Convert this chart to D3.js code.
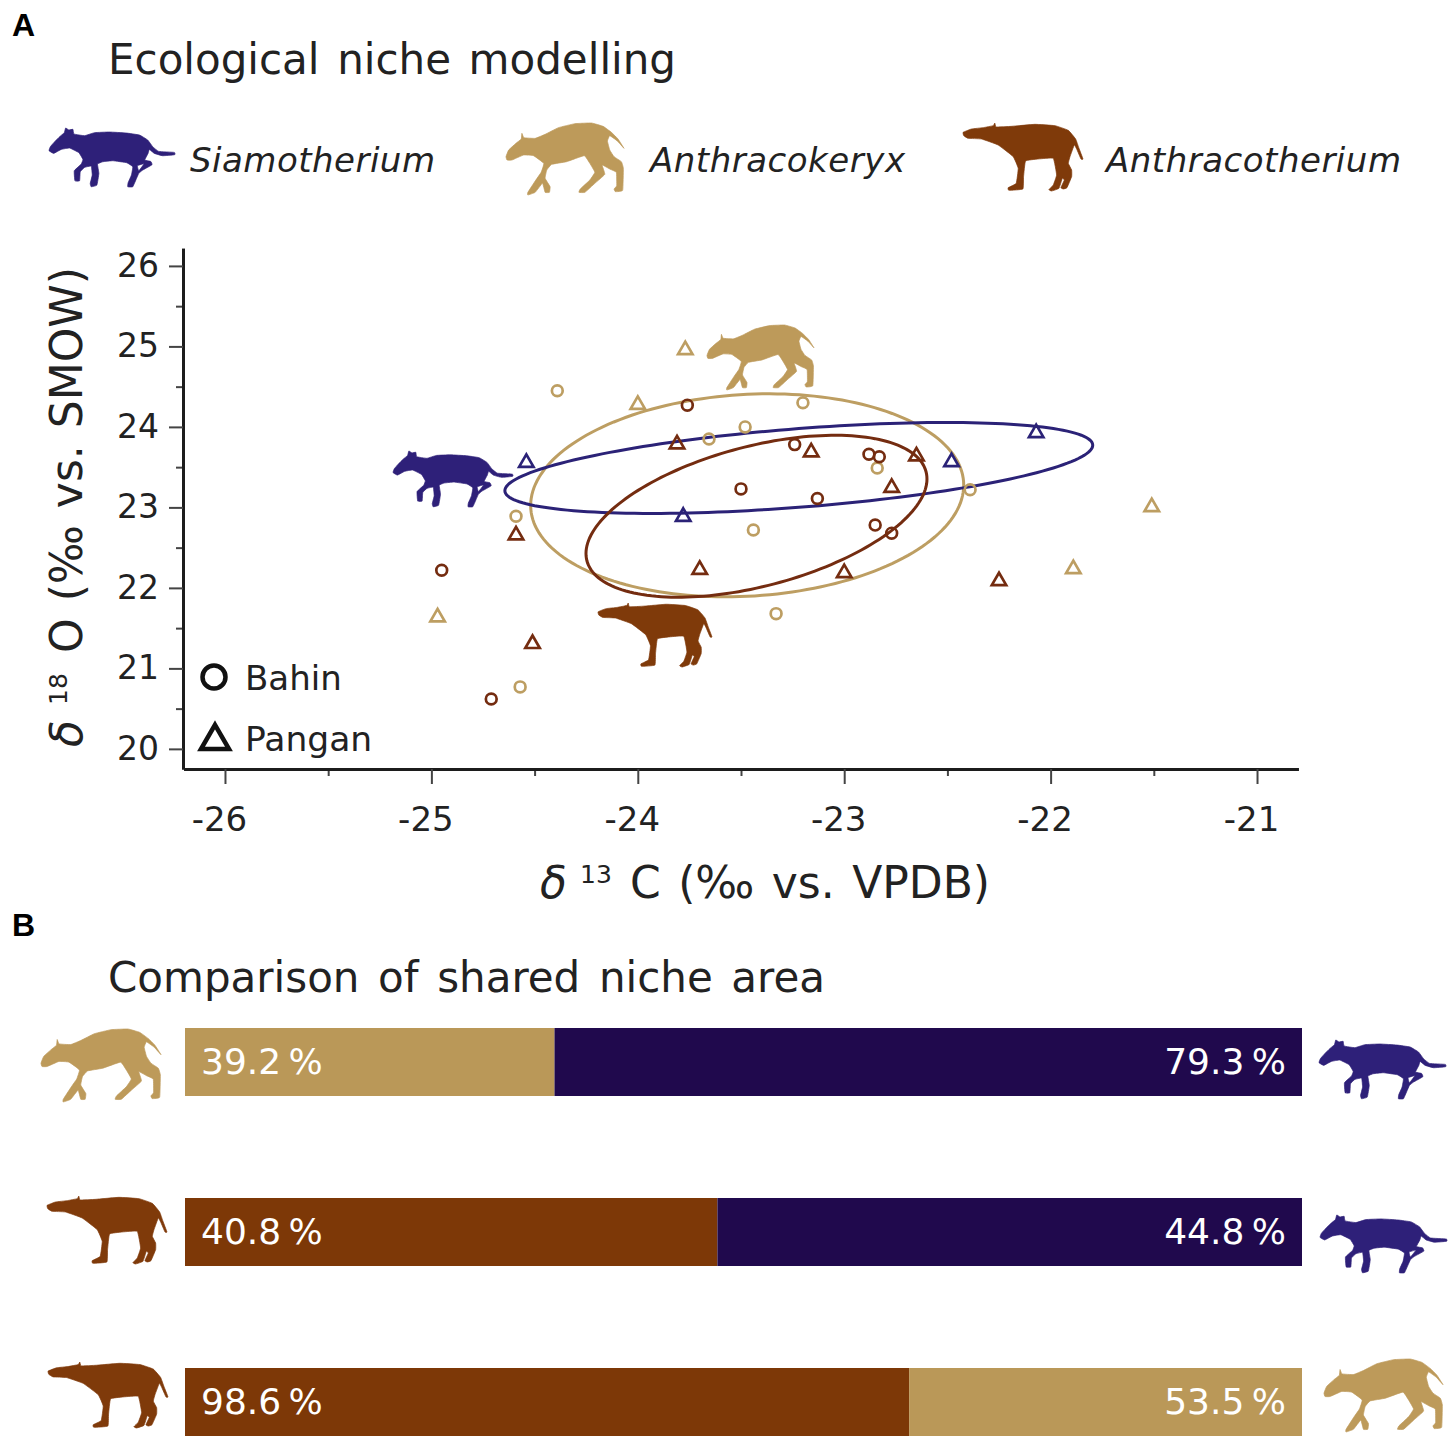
<!DOCTYPE html>
<html>
<head>
<meta charset="utf-8">
<script src="https://cdn.jsdelivr.net/npm/d3@7"></script>
<style>
  body { margin: 0; background: #fff; }
  svg { display: block; }
  text { font-family: "DejaVu Sans", sans-serif; fill: #222; }
</style>
</head>
<body>
<svg id="chart" width="1454" height="1442"></svg>
<script>
// isotope values, [d13C, d18O]
const bahinAnthracotherium = [[-24.95,22.22],[-24.71,20.62],[-23.76,24.27],[-23.50,23.23],[-23.24,23.78],[-23.13,23.11],[-22.88,23.66],[-22.83,23.63],[-22.85,22.78],[-22.77,22.68]];
const bahinAnthracokeryx = [[-24.39,24.45],[-24.59,22.89],[-24.57,20.77],[-23.655,23.85],[-23.48,24.00],[-23.20,24.30],[-23.44,22.72],[-22.84,23.49],[-22.39,23.22],[-23.33,21.68]];
const panganAnthracokeryx = [[-23.77,24.98],[-24.00,24.30],[-24.97,21.66],[-21.51,23.03],[-21.89,22.26]];
const panganAnthracotherium = [[-23.81,23.81],[-23.16,23.71],[-22.65,23.66],[-22.77,23.27],[-24.59,22.68],[-23.70,22.25],[-23.00,22.21],[-22.25,22.11],[-24.51,21.33]];
const panganSiamotherium = [[-24.54,23.58],[-23.78,22.91],[-22.48,23.59],[-22.07,23.95]];

// niche ellipses: centre, spread on each axis, correlation
const ellipseCentreX = { keryx: -23.47, siamo: -23.22, anthraco: -23.425 };
const ellipseCentreY = { keryx: 23.15, siamo: 23.49, anthraco: 22.89 };
const ellipseSpreadX = { keryx: 1.049, siamo: 1.424, anthraco: 0.826 };
const ellipseSpreadY = { keryx: 1.261, siamo: 0.565, anthraco: 1.006 };
const ellipseRho = { keryx: 0.1, siamo: 0.5, anthraco: 0.46 };

const xTicks = [-26, -25, -24, -23, -22, -21];
const xMinorTicks = [-25.5, -24.5, -23.5, -22.5, -21.5];
const yTicks = [20, 21, 22, 23, 24, 25, 26];
const yMinorTicks = [20.5, 21.5, 22.5, 23.5, 24.5, 25.5];

// shared niche area, left and right of each bar
const overlapLeftNames = ['keryx', 'anthraco', 'anthraco'];
const overlapRightNames = ['siamo', 'siamo', 'keryx'];
const overlapLeft = [39.2, 40.8, 98.6];
const overlapRight = [79.3, 44.8, 53.5];

const speciesNames = { siamo: 'Siamotherium', keryx: 'Anthracokeryx', anthraco: 'Anthracotherium' };

const lineColor = { siamo: '#2b2277', keryx: '#bd9e62', anthraco: '#742c10' };
const iconColor = { siamo: '#2e2079', keryx: '#bd9a5a', anthraco: '#7f3a0a' };
const barColor = { siamo: '#20094d', keryx: '#ba9858', anthraco: '#7d3807' };

// animal outlines, traced by hand, smoothed a little when drawn
const outlines = {
  siamo: ['28,92 32,80 45,65 60,50 74,38 78,24 88,30 100,28 103,42 135,47 165,38 210,36 260,39 300,45 325,60 340,80 358,94 405,97 406,104 370,107 345,100 330,88 326,100 316,120 334,124 338,134 310,150 298,160 290,178 280,200 265,200 266,188 276,165 280,140 262,128 220,122 190,125 174,132 178,160 172,195 155,200 152,190 158,165 155,138 135,142 122,155 120,182 106,182 104,152 125,132 130,118 118,98 90,84 65,88 42,100',
          '294,137 314,131 298,152'],
  keryx: ['32,125 40,105 62,85 78,72 80,55 86,68 120,70 150,58 190,38 240,26 290,24 325,34 350,52 370,72 388,100 368,78 345,62 338,78 345,105 358,125 380,140 386,160 384,226 362,230 358,222 366,212 365,172 345,162 322,150 330,178 300,205 270,232 252,232 256,222 285,195 300,172 285,145 268,122 215,140 170,148 155,165 150,190 165,215 163,232 150,232 142,205 120,232 98,240 98,232 122,195 138,172 146,145 115,122 85,120 50,135 35,135'],
  anthraco: ['25,42 50,32 85,28 115,22 120,14 124,26 170,24 240,18 300,22 340,36 362,62 372,90 384,122 378,122 365,92 358,80 345,115 340,135 350,155 350,175 336,208 325,212 318,208 328,185 322,180 312,210 290,218 282,214 295,200 305,170 295,120 250,122 212,128 206,175 204,212 162,216 160,208 184,195 190,150 175,115 130,80 80,62 40,60 27,52']
};

const svg = d3.select('#chart');
const fontSize = 34;
const outlineLine = d3.line().curve(d3.curveCardinalClosed.tension(0.7));

// fits an outline into the box [x0,y0,x1,y1]
function drawIcon(name, box) {
  const d = outlines[name].map(s => outlineLine(s.split(' ').map(p => p.split(',').map(Number)))).join(' ');
  const p = svg.append('path')
    .attr('d', d)
    .attr('fill', iconColor[name])
    .attr('fill-rule', 'evenodd')
    .attr('stroke', iconColor[name])
    .attr('stroke-width', 0.7)
    .attr('stroke-linejoin', 'round')
    .attr('vector-effect', 'non-scaling-stroke');
  const b = p.node().getBBox();
  const sx = (box[2] - box[0]) / b.width, sy = (box[3] - box[1]) / b.height;
  p.attr('transform', `translate(${box[0] - b.x * sx},${box[1] - b.y * sy}) scale(${sx},${sy})`);
}

// stretches only the word gaps so the text ends where it should
function fitWords(sel, width) {
  const natural = sel.node().getComputedTextLength();
  const gaps = sel.text().split(' ').length - 1;
  sel.style('word-spacing', ((width - natural) / gaps) + 'px');
}

// panel letters and titles
svg.append('text').attr('x', 12).attr('y', 36).text('A')
  .style('font-family', '"Liberation Sans"').style('font-weight', 'bold').style('font-size', '32px').style('fill', '#000');
svg.append('text').attr('x', 12).attr('y', 936).text('B')
  .style('font-family', '"Liberation Sans"').style('font-weight', 'bold').style('font-size', '32px').style('fill', '#000');
const titleA = svg.append('text').attr('x', 108).attr('y', 74).text('Ecological niche modelling').style('font-size', '42px');
fitWords(titleA, 568);
const titleB = svg.append('text').attr('x', 108).attr('y', 992).text('Comparison of shared niche area').style('font-size', '42px');
fitWords(titleB, 717);

// species key
drawIcon('siamo', [49, 128, 175, 187]);
drawIcon('keryx', [506, 123, 624, 195]);
drawIcon('anthraco', [963, 123, 1083, 191]);
const keyX = { siamo: [190, 245], keryx: [650, 255], anthraco: [1106, 295] };
Object.keys(keyX).forEach(k => {
  svg.append('text').attr('x', keyX[k][0]).attr('y', 172).text(speciesNames[k])
    .style('font-style', 'italic').style('font-size', fontSize + 'px').attr('textLength', keyX[k][1]);
});

// scatter
const x = d3.scaleLinear().domain([-26.2, -20.8]).range([183.7, 1298.3]);
const y = d3.scaleLinear().domain([19.75, 26.22]).range([769, 248.2]);

const styleAxis = (g, size) => {
  g.selectAll('.domain').attr('stroke', '#1c1c1c').attr('stroke-width', 3);
  g.selectAll('.tick line').attr('stroke', '#444').attr('stroke-width', 2);
  g.selectAll('.tick text').style('font-size', size + 'px').style('font-family', '"DejaVu Sans"').attr('fill', '#222');
};

const xAxisMinor = svg.append('g').attr('transform', 'translate(0,769)')
  .call(d3.axisBottom(x).tickValues(xMinorTicks).tickSize(7).tickFormat('').tickSizeOuter(0));
styleAxis(xAxisMinor, fontSize);
const yAxisMinor = svg.append('g').attr('transform', 'translate(183,0)')
  .call(d3.axisLeft(y).tickValues(yMinorTicks).tickSize(7).tickFormat('').tickSizeOuter(0));
styleAxis(yAxisMinor, fontSize);

const xAxis = svg.append('g').attr('transform', 'translate(0,769)')
  .call(d3.axisBottom(x).tickValues(xTicks).tickSize(15).tickPadding(23).tickFormat(d => String(d)).tickSizeOuter(0));
styleAxis(xAxis, fontSize);
xAxis.selectAll('.tick text').attr('dx', -6);
const yAxis = svg.append('g').attr('transform', 'translate(183,0)')
  .call(d3.axisLeft(y).tickValues(yTicks).tickSize(14).tickPadding(10).tickFormat(d => String(d)).tickSizeOuter(0));
styleAxis(yAxis, 33);

// axis titles, pieces placed one by one
const xTitle = svg.append('text').attr('y', 898).style('font-size', '44px');
xTitle.append('tspan').attr('x', 540).text('δ').style('font-style', 'italic');
xTitle.append('tspan').attr('x', 580).attr('dy', -15).text('13').style('font-size', '25px');
const xTitleRest = xTitle.append('tspan').attr('x', 630).attr('dy', 15).text('C (‰ vs. VPDB)');
fitWords(xTitleRest, 360);

const yTitle = svg.append('text').attr('transform', 'translate(82,747) rotate(-90)').style('font-size', '44px');
yTitle.append('tspan').attr('x', 0).text('δ').style('font-style', 'italic');
yTitle.append('tspan').attr('x', 42).attr('dy', -15).text('18').style('font-size', '25px');
const yTitleRest = yTitle.append('tspan').attr('x', 94).attr('dy', 15).text('O (‰ vs. SMOW)');
fitWords(yTitleRest, 386);

// niche ellipses
const ellipseLine = d3.line().x(d => x(d[0])).y(d => y(d[1])).curve(d3.curveLinearClosed);
['keryx', 'siamo', 'anthraco'].forEach(k => {
  const r = ellipseRho[k];
  const pts = d3.range(0, 2 * Math.PI, Math.PI / 90).map(t => [
    ellipseCentreX[k] + ellipseSpreadX[k] * Math.cos(t),
    ellipseCentreY[k] + ellipseSpreadY[k] * (r * Math.cos(t) + Math.sqrt(1 - r * r) * Math.sin(t))
  ]);
  svg.append('path').attr('d', ellipseLine(pts)).attr('fill', 'none')
    .attr('stroke', lineColor[k]).attr('stroke-width', 3);
});

// points
const drawCircles = (data, name) => {
  svg.append('g').selectAll('circle').data(data).join('circle')
    .attr('cx', d => x(d[0])).attr('cy', d => y(d[1])).attr('r', 5.4)
    .attr('fill', 'none').attr('stroke', lineColor[name]).attr('stroke-width', 2.7);
};
const triangle = d3.symbol().type(d3.symbolTriangle).size(90);
const drawTriangles = (data, name) => {
  svg.append('g').selectAll('path').data(data).join('path')
    .attr('d', triangle)
    .attr('transform', d => `translate(${x(d[0])},${y(d[1]) + 2})`)
    .attr('fill', 'none').attr('stroke', lineColor[name]).attr('stroke-width', 2.7);
};
drawCircles(bahinAnthracokeryx, 'keryx');
drawCircles(bahinAnthracotherium, 'anthraco');
drawTriangles(panganAnthracokeryx, 'keryx');
drawTriangles(panganAnthracotherium, 'anthraco');
drawTriangles(panganSiamotherium, 'siamo');

// animals next to the ellipses
drawIcon('keryx', [707, 325, 814, 390]);
drawIcon('siamo', [393, 451, 513, 507]);
drawIcon('anthraco', [598, 603, 712, 667]);

// site key
svg.append('circle').attr('cx', 214).attr('cy', 677).attr('r', 11.5)
  .attr('fill', 'none').attr('stroke', '#111').attr('stroke-width', 4.5);
svg.append('path').attr('d', d3.symbol().type(d3.symbolTriangle).size(340))
  .attr('transform', 'translate(215,741)')
  .attr('fill', 'none').attr('stroke', '#111').attr('stroke-width', 4.5);
svg.append('text').attr('x', 245).attr('y', 690).text('Bahin').style('font-size', fontSize + 'px');
svg.append('text').attr('x', 245).attr('y', 751).text('Pangan').style('font-size', '34.5px');

// panel B, each bar is the two shares stacked to full width
const barRows = overlapLeft.map((v, i) => ({ row: i, left: v, right: overlapRight[i] }));
const barSeries = d3.stack().keys(['left', 'right']).offset(d3.stackOffsetExpand)(barRows);
const barX = d3.scaleLinear().domain([0, 1]).range([185, 1302]);
const barY = d3.scaleBand().domain([0, 1, 2]).range([1028, 1436]).paddingInner(0.6);

barSeries.forEach(s => {
  svg.append('g').selectAll('rect').data(s).join('rect')
    .attr('x', d => barX(d[0]))
    .attr('width', d => barX(d[1]) - barX(d[0]))
    .attr('y', d => barY(d.data.row))
    .attr('height', barY.bandwidth())
    .attr('fill', d => barColor[s.key === 'left' ? overlapLeftNames[d.data.row] : overlapRightNames[d.data.row]]);
});
barRows.forEach(d => {
  const ty = barY(d.row) + barY.bandwidth() / 2 + 12;
  svg.append('text').attr('x', barX(0) + 16).attr('y', ty).text(d.left.toFixed(1) + ' %')
    .style('font-size', '36px').style('word-spacing', '-4px').style('fill', '#fff');
  svg.append('text').attr('x', barX(1) - 16).attr('y', ty).text(d.right.toFixed(1) + ' %')
    .attr('text-anchor', 'end').style('font-size', '36px').style('word-spacing', '-4px').style('fill', '#fff');
});

drawIcon('keryx', [41, 1029, 161, 1102]);
drawIcon('siamo', [1319, 1040, 1446, 1099]);
drawIcon('anthraco', [47, 1196, 167, 1264]);
drawIcon('siamo', [1320, 1215, 1447, 1273]);
drawIcon('anthraco', [48, 1362, 168, 1428]);
drawIcon('keryx', [1324, 1359, 1443, 1432]);
</script>
</body>
</html>
